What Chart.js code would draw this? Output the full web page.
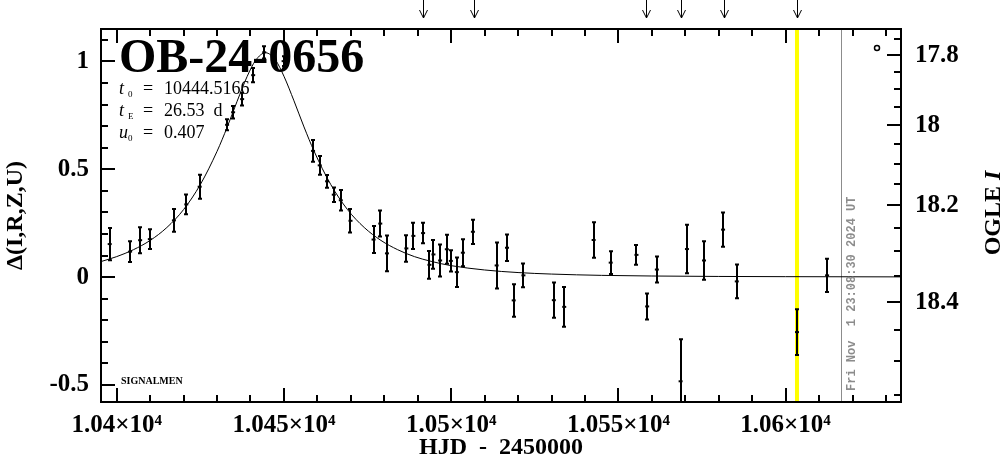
<!DOCTYPE html>
<html>
<head>
<meta charset="utf-8">
<script src="https://cdn.jsdelivr.net/npm/chart.js@4.4.0/dist/chart.umd.min.js"></script>
<style>
  html, body { margin: 0; padding: 0; background: #fff; }
  #wrap { width: 1004px; height: 459px; }
</style>
</head>
<body>
<div id="wrap"><canvas id="lightCurve" width="1004" height="459"></canvas></div>
<script>
// OB-24-0656 light curve (OGLE EWS style)
const obsHjd = [10397.9, 10404.0, 10407.0, 10409.9, 10417.1, 10420.8, 10424.8, 10433.0, 10434.8, 10437.5,
    10440.8, 10444.1, 10449.9, 10458.7, 10460.7, 10462.9, 10464.9, 10467.0, 10469.9, 10476.8,
    10478.8, 10480.8, 10486.6, 10488.7, 10491.6, 10493.5, 10494.7, 10496.7, 10498.7, 10499.9,
    10501.7, 10503.5, 10506.5, 10513.6, 10516.7, 10518.7, 10521.6, 10530.7, 10533.8, 10542.6,
    10547.7, 10555.4, 10558.6, 10561.5, 10568.6, 10570.5, 10575.6, 10581.3, 10585.4, 10603.4,
    10612.4];
const obsDelta = [0.153, 0.118, 0.171, 0.176, 0.263, 0.337, 0.419, 0.706, 0.764, 0.825,
    0.936, 1.042, 1.001, 0.585, 0.518, 0.444, 0.382, 0.356, 0.261, 0.174,
    0.248, 0.110, 0.133, 0.191, 0.204, 0.057, 0.105, 0.077, 0.129, 0.075,
    0.023, 0.113, 0.210, 0.054, 0.136, -0.108, 0.008, -0.107, -0.138, 0.172,
    0.067, 0.103, -0.136, 0.035, -0.483, 0.130, 0.077, 0.220, -0.020, -0.255,
    0.008];
const obsErr = [0.079, 0.053, 0.065, 0.050, 0.057, 0.050, 0.060, 0.030, 0.034, 0.034,
    0.038, 0.033, 0.027, 0.055, 0.048, 0.034, 0.038, 0.052, 0.059, 0.067,
    0.065, 0.088, 0.066, 0.065, 0.052, 0.069, 0.071, 0.079, 0.072, 0.054,
    0.073, 0.067, 0.061, 0.111, 0.066, 0.080, 0.060, 0.086, 0.097, 0.087,
    0.057, 0.050, 0.065, 0.065, 0.200, 0.117, 0.094, 0.084, 0.083, 0.111,
    0.082];

// model curve
const modelHjd = [10395.3, 10400, 10405, 10410, 10415, 10420, 10425, 10430, 10433, 10436,
    10439, 10441.5, 10444.5, 10447.5, 10450, 10453, 10456, 10459, 10464, 10469,
    10474, 10479, 10484, 10489, 10494, 10500, 10510, 10520, 10530, 10545,
    10560, 10580, 10600, 10634.5];
const modelDelta = [0.072, 0.095, 0.127, 0.170, 0.230, 0.313, 0.429, 0.583, 0.694, 0.815,
    0.930, 1.004, 1.040, 1.005, 0.931, 0.817, 0.696, 0.584, 0.429, 0.313,
    0.230, 0.170, 0.127, 0.095, 0.073, 0.053, 0.033, 0.021, 0.014, 0.008,
    0.005, 0.003, 0.002, 0.001];

const alertHjd = [10491.6, 10506.7, 10558.4, 10568.6, 10581.6, 10603.4];
const nowHjd = 10603.4;
const stampHjd = 10616.5;

const xTickValues = [10400, 10410, 10420, 10430, 10440, 10450, 10460, 10470, 10480, 10490, 10500, 10510,
    10520, 10530, 10540, 10550, 10560, 10570, 10580, 10590, 10600, 10610, 10620, 10630];
const xMajor = [10400, 10450, 10500, 10550, 10600];
const xTickLabels = ['1.04×10⁴', '1.045×10⁴', '1.05×10⁴', '1.055×10⁴', '1.06×10⁴'];

const yTickValues = [-0.5, -0.4, -0.3, -0.2, -0.1, 0, 0.1, 0.2, 0.3, 0.4, 0.5, 0.6, 0.7, 0.8, 0.9, 1.0, 1.1];
const yMajor = [-0.5, 0, 0.5, 1];
const yTickLabels = ['-0.5', '0', '0.5', '1'];

const magTickValues = [17.75, 17.8, 17.85, 17.9, 17.95, 18, 18.05, 18.1, 18.15, 18.2,
    18.25, 18.3, 18.35, 18.4, 18.45, 18.5, 18.55];
const magMajor = [17.8, 18, 18.2, 18.4];
const magTickLabels = ['17.8', '18', '18.2', '18.4'];

// OGLE I mag -> Δ (source mag units, with blending)
const SRC = 0.3043, BLEND = 0.4184;
function magToDelta(m) {
    const f = Math.pow(10, -0.4 * (m - 18));
    return 2.5 * Math.log10((f - BLEND) / SRC);
}

const X_MIN = 10395.3, X_MAX = 10634.5;
const Y_MIN = -0.579, Y_MAX = 1.150;
const SERIF = "'Liberation Serif', 'Times New Roman', serif";

const decor = {
    id: 'decor',
    beforeDatasetsDraw(chart) {
        const { ctx, chartArea: a, scales: { x } } = chart;
        ctx.save();
        ctx.beginPath();
        ctx.rect(a.left, a.top, a.width, a.height);
        ctx.clip();
        const nx = x.getPixelForValue(nowHjd);
        ctx.strokeStyle = '#ffff00';
        ctx.lineWidth = 4;
        ctx.beginPath(); ctx.moveTo(nx, a.top); ctx.lineTo(nx, a.bottom); ctx.stroke();
        const gx = Math.round(x.getPixelForValue(stampHjd)) + 0.5;
        ctx.strokeStyle = '#8c8c8c';
        ctx.lineWidth = 1;
        ctx.beginPath(); ctx.moveTo(gx, a.top); ctx.lineTo(gx, a.bottom); ctx.stroke();
        ctx.restore();
    },
    afterDatasetsDraw(chart) {
        const { ctx, chartArea: a, scales: { x, y } } = chart;
        ctx.save();
        ctx.beginPath();
        ctx.rect(a.left, a.top, a.width, a.height);
        ctx.clip();
        ctx.strokeStyle = '#000';
        ctx.lineWidth = 2;
        obsHjd.forEach((h, i) => {
            const px = Math.round(x.getPixelForValue(h));
            const yt = y.getPixelForValue(obsDelta[i] + obsErr[i]);
            const yb = y.getPixelForValue(obsDelta[i] - obsErr[i]);
            ctx.beginPath();
            ctx.moveTo(px, yt); ctx.lineTo(px, yb);
            ctx.moveTo(px - 2, yt + 1); ctx.lineTo(px + 2, yt + 1);
            ctx.moveTo(px - 2, yb - 1); ctx.lineTo(px + 2, yb - 1);
            ctx.stroke();
        });
        ctx.restore();
    },
    afterDraw(chart) {
        const { ctx, chartArea: a, scales: { x, y, y2 } } = chart;
        ctx.save();
        ctx.strokeStyle = '#000';
        ctx.fillStyle = '#000';

        // frame
        ctx.lineWidth = 2;
        ctx.strokeRect(a.left, a.top, a.width, a.height);

        // inward ticks
        ctx.beginPath();
        xTickValues.forEach(v => {
            const px = Math.round(x.getPixelForValue(v));
            const len = xMajor.includes(v) ? 14 : 7;
            ctx.moveTo(px, a.bottom); ctx.lineTo(px, a.bottom - len);
            ctx.moveTo(px, a.top); ctx.lineTo(px, a.top + len);
        });
        yTickValues.forEach(v => {
            const py = Math.round(y.getPixelForValue(v));
            const len = yMajor.some(m => Math.abs(m - v) < 1e-6) ? 14 : 7;
            ctx.moveTo(a.left, py); ctx.lineTo(a.left + len, py);
        });
        magTickValues.forEach(m => {
            const py = Math.round(y2.getPixelForValue(magToDelta(m)));
            const len = magMajor.some(v => Math.abs(v - m) < 1e-6) ? 14 : 7;
            ctx.moveTo(a.right, py); ctx.lineTo(a.right - len, py);
        });
        ctx.stroke();

        // alert arrows above the frame
        ctx.lineWidth = 1;
        ctx.beginPath();
        alertHjd.forEach(h => {
            const px = Math.round(x.getPixelForValue(h)) + 0.5;
            ctx.moveTo(px, 0); ctx.lineTo(px, 18);
            ctx.moveTo(px - 4, 10); ctx.lineTo(px, 18); ctx.lineTo(px + 4, 10);
        });
        ctx.stroke();

        // small circle top right
        ctx.lineWidth = 1.5;
        ctx.beginPath();
        ctx.arc(877, 48, 2.5, 0, Math.PI * 2);
        ctx.stroke();

        // event name and parameters
        ctx.textBaseline = 'alphabetic';
        ctx.textAlign = 'left';
        ctx.font = `bold 48px ${SERIF}`;
        ctx.fillText('OB-24-0656', 119, 72);

        const rows = [
            { v: 't', sub: '0', val: '10444.5166', base: 94 },
            { v: 't', sub: 'E', val: '26.53  d', base: 116 },
            { v: 'u', sub: '0', val: '0.407', base: 138 }
        ];
        rows.forEach(r => {
            ctx.font = `italic 18px ${SERIF}`;
            ctx.fillText(r.v, 119, r.base);
            ctx.font = `9px ${SERIF}`;
            ctx.fillText(r.sub, 128, r.base + 3);
            ctx.font = `18px ${SERIF}`;
            ctx.fillText('=', 143, r.base);
            ctx.fillText(r.val, 164, r.base);
        });

        ctx.font = `bold 10px ${SERIF}`;
        ctx.fillText('SIGNALMEN', 121, 384);

        // timestamp
        ctx.save();
        ctx.translate(852, 391);
        ctx.rotate(-Math.PI / 2);
        ctx.fillStyle = '#8c8c8c';
        ctx.font = "bold 12px 'Liberation Mono', monospace";
        ctx.textBaseline = 'middle';
        ctx.fillText('Fri Nov  1 23:08:30 2024 UT', 0, 0);
        ctx.restore();

        // right axis title
        ctx.save();
        ctx.translate(994, 213);
        ctx.rotate(-Math.PI / 2);
        ctx.textBaseline = 'middle';
        ctx.font = `bold 24px ${SERIF}`;
        const w1 = ctx.measureText('OGLE ').width;
        ctx.font = `bold italic 24px ${SERIF}`;
        const w2 = ctx.measureText('I').width;
        ctx.font = `bold 24px ${SERIF}`;
        ctx.fillText('OGLE ', -(w1 + w2) / 2, 0);
        ctx.font = `bold italic 24px ${SERIF}`;
        ctx.fillText('I', -(w1 + w2) / 2 + w1, 0);
        ctx.restore();

        ctx.restore();
    }
};

const tickFont = { family: SERIF, size: 25, weight: 'bold' };
const titleFont = { family: SERIF, size: 24, weight: 'bold', lineHeight: 0.95 };

new Chart(document.getElementById('lightCurve'), {
    data: {
        datasets: [{
            type: 'line',
            label: 'model',
            data: modelHjd.map((h, i) => ({ x: h, y: modelDelta[i] })),
            borderColor: '#000',
            borderWidth: 1,
            pointRadius: 0,
            cubicInterpolationMode: 'monotone',
            yAxisID: 'y'
        }, {
            type: 'scatter',
            label: 'OGLE',
            data: obsHjd.map((h, i) => ({ x: h, y: obsDelta[i] })),
            pointStyle: 'line',
            pointRadius: 2,
            borderColor: '#000',
            borderWidth: 2,
            yAxisID: 'y'
        }]
    },
    options: {
        responsive: false,
        animation: false,
        layout: { padding: { top: 25, left: 0, right: 0, bottom: 0 } },
        plugins: { legend: { display: false }, tooltip: { enabled: false } },
        scales: {
            x: {
                type: 'linear',
                position: 'bottom',
                min: X_MIN,
                max: X_MAX,
                afterFit: s => { s.height = 57; },
                afterBuildTicks: s => { s.ticks = xMajor.map(v => ({ value: v })); },
                ticks: {
                    autoSkip: false,
                    maxRotation: 0,
                    padding: 9,
                    color: '#000',
                    font: tickFont,
                    callback: (v, i) => xTickLabels[i]
                },
                grid: { display: false, drawTicks: false },
                border: { display: false },
                title: {
                    display: true,
                    text: 'HJD  -  2450000',
                    color: '#000',
                    font: titleFont,
                    padding: { top: 0, bottom: 0 }
                }
            },
            y: {
                type: 'linear',
                position: 'left',
                min: Y_MIN,
                max: Y_MAX,
                afterFit: s => { s.width = 101; },
                afterBuildTicks: s => { s.ticks = yMajor.map(v => ({ value: v })); },
                ticks: {
                    padding: 12,
                    color: '#000',
                    font: tickFont,
                    callback: (v, i) => yTickLabels[i]
                },
                grid: { display: false, drawTicks: false },
                border: { display: false },
                title: {
                    display: true,
                    text: 'Δ(I,R,Z,U)',
                    color: '#000',
                    font: { family: SERIF, size: 24, weight: 'bold' },
                    padding: { top: 1, bottom: 0 }
                }
            },
            y2: {
                type: 'linear',
                position: 'right',
                min: Y_MIN,
                max: Y_MAX,
                afterFit: s => { s.width = 103; },
                afterBuildTicks: s => { s.ticks = magMajor.map(m => ({ value: magToDelta(m) })); },
                ticks: {
                    padding: 14,
                    color: '#000',
                    font: tickFont,
                    callback: (v, i) => magTickLabels[i]
                },
                grid: { display: false, drawTicks: false },
                border: { display: false }
            }
        }
    },
    plugins: [decor]
});
</script>
</body>
</html>
